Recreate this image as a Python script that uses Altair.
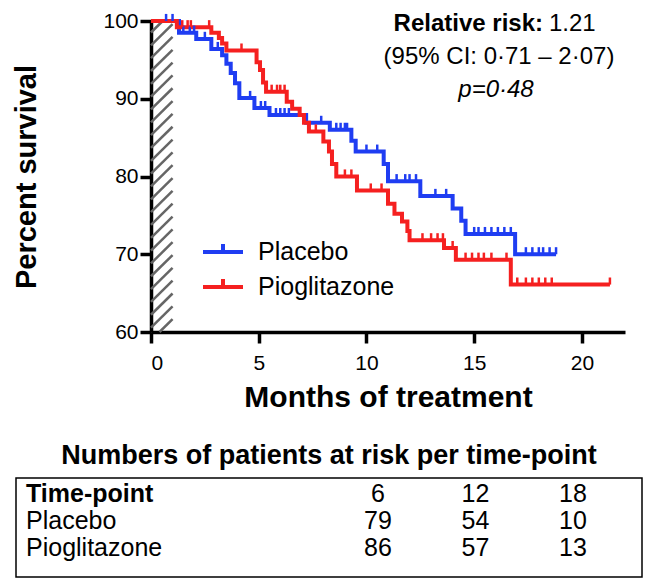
import altair as alt
import pandas as pd
import numpy as np

# ---------------- data ----------------
groups = ["Placebo", "Pioglitazone"]

placebo_t = [0, 1.3, 2.1, 2.8, 3.3, 3.5, 3.7, 3.9, 4.1, 4.8, 5.5, 7.2, 8.3, 9.3, 9.5,
             10.8, 11.0, 12.5, 14.0, 14.4, 14.6, 16.9, 18.8]
placebo_s = [100, 98.5, 97.7, 96.4, 95.6, 94.5, 93.3, 92.0, 90.1, 88.8, 87.9, 86.9, 86.0, 84.6, 83.2,
             81.6, 79.4, 77.5, 75.9, 74.3, 72.6, 70.0, 70.0]
placebo_censored = [0.7, 1.0, 1.5, 1.8, 2.0, 2.5, 3.1, 4.6, 5.1, 5.3, 5.8, 6.0, 6.2, 6.4,
                    7.9, 8.6, 8.8, 9.0, 9.1, 10.0, 10.5, 11.4, 11.8, 12.0, 12.3, 13.2, 13.7,
                    15.0, 15.2, 15.5, 15.8, 16.1, 16.4, 16.7, 17.4, 17.7, 18.0, 18.2, 18.5, 18.8]

pio_t = [0, 1.2, 2.8, 3.15, 3.3, 3.5, 4.9, 5.06, 5.2, 5.34, 6.3, 6.55, 6.9, 7.1, 7.33,
         8.0, 8.26, 8.4, 8.6, 9.56, 11.0, 11.3, 11.65, 11.9, 12.0, 13.6, 14.15, 16.7, 21.3]
pio_s = [100, 99.2, 98.5, 97.8, 97.1, 96.2, 94.7, 93.7, 92.1, 90.9, 89.6, 88.7, 87.9, 86.9, 85.8,
         84.5, 83.2, 81.6, 80.0, 78.2, 76.5, 75.2, 74.2, 73.0, 71.8, 70.8, 69.3, 66.1, 66.1]
pio_censored = [1.45, 1.7, 1.85, 2.7, 4.2, 5.6, 5.85, 6.0, 6.2, 7.65, 9.0, 9.3, 10.2, 10.7,
                12.6, 13.0, 13.3, 13.55, 14.0, 14.6, 14.9, 15.2, 15.45, 15.8, 16.5,
                17.0, 17.4, 17.7, 18.0, 18.3, 18.6, 21.3]

month_ticks = [0, 5, 10, 15, 20]
percent_ticks = [60, 70, 80, 90, 100]
run_in_months = [0, 1]

table_rows = ["Time-point", "Placebo", "Pioglitazone"]
time_points = [6, 12, 18]
placebo_at_risk = [79, 54, 10]
pio_at_risk = [86, 57, 13]

annotation_bold = "Relative risk:"
annotation_rr = "1.21"
annotation_ci = "(95% CI: 0·71 – 2·07)"
annotation_p = "p=0·48"

# ---------------- styling ----------------
BLUE = "#1f3df2"
RED = "#f52020"
FONT = "Liberation Sans"
X_DOMAIN = [0, 22]
Y_DOMAIN = [60, 100]
PANEL_W = 626          # shared width of the survival panel and the risk-table box
AXIS_LEFT = 135        # where the survival x-axis starts inside the panel
AXIS_RIGHT = 609

# ---------------- tables ----------------
def level_at(ts, ss, t):
    lvl = ss[0]
    for ti, si in zip(ts, ss):
        if ti <= t:
            lvl = si
    return lvl

steps = pd.concat([
    pd.DataFrame({"group": "Placebo", "t": placebo_t, "S": placebo_s}),
    pd.DataFrame({"group": "Pioglitazone", "t": pio_t, "S": pio_s}),
], ignore_index=True)

cens = pd.concat([
    pd.DataFrame({"group": "Placebo", "t": placebo_censored,
                  "S": [level_at(placebo_t, placebo_s, t) for t in placebo_censored]}),
    pd.DataFrame({"group": "Pioglitazone", "t": pio_censored,
                  "S": [level_at(pio_t, pio_s, t) for t in pio_censored]}),
], ignore_index=True)

# hatch lines of the run-in band (0-1 month), 45 degrees, clipped to the band
slope = 2.73
rows = []
c = Y_DOMAIN[0] - slope
while c < Y_DOMAIN[1]:
    t_lo = max(run_in_months[0], (Y_DOMAIN[0] - c) / slope)
    t_hi = min(run_in_months[1], (Y_DOMAIN[1] - c) / slope)
    if t_hi > t_lo:
        rows.append({"x": t_lo, "y": c + slope * t_lo, "x2": t_hi, "y2": c + slope * t_hi})
    c += 1.65
hatch = pd.DataFrame(rows)

xscale = alt.Scale(domain=X_DOMAIN, nice=False, zero=False, range=[AXIS_LEFT, AXIS_RIGHT])
yscale = alt.Scale(domain=Y_DOMAIN, nice=False, zero=False)
cscale = alt.Scale(domain=groups, range=[BLUE, RED])

x_axis = alt.Axis(values=month_ticks, title="Months of treatment", grid=False,
                  labelFont=FONT, labelFontSize=21, labelColor="black", labelPadding=9,
                  titleFont=FONT, titleFontSize=30, titleFontWeight="bold", titleColor="black",
                  titlePadding=9, titleX=(AXIS_LEFT + AXIS_RIGHT) / 2,
                  domainColor="black", domainWidth=3.5,
                  tickColor="black", tickWidth=3.5, tickSize=11)
y_axis = alt.Axis(values=percent_ticks, title="Percent survival", grid=False, offset=-AXIS_LEFT,
                  labelFont=FONT, labelFontSize=21, labelColor="black", labelPadding=2,
                  titleFont=FONT, titleFontSize=29, titleFontWeight="bold", titleColor="black",
                  titlePadding=61, domainColor="black", domainWidth=3.5,
                  tickColor="black", tickWidth=3.5, tickSize=11)

hatch_layer = alt.Chart(hatch).mark_rule(color="#666666", strokeWidth=2.5).encode(
    x=alt.X("x:Q", scale=xscale, axis=x_axis),
    y=alt.Y("y:Q", scale=yscale, axis=y_axis),
    x2="x2:Q", y2="y2:Q")

line_layer = alt.Chart(steps).mark_line(interpolate="step-after", strokeWidth=4).encode(
    x=alt.X("t:Q", scale=xscale),
    y=alt.Y("S:Q", scale=yscale),
    color=alt.Color("group:N", scale=cscale, sort=groups,
                    legend=alt.Legend(title=None, orient="none", legendX=AXIS_LEFT + 50, legendY=209,
                                      symbolType="M-1,0H1M0,0V-0.4", symbolSize=1600,
                                      symbolStrokeWidth=4, symbolFillColor="transparent",
                                      labelFont=FONT, labelFontSize=25, labelColor="black",
                                      labelOffset=13, rowPadding=-3)))

cens_layer = alt.Chart(cens).mark_point(shape="M0,0V-1", size=200, strokeWidth=2.5,
                                        filled=False, opacity=1).encode(
    x=alt.X("t:Q", scale=xscale),
    y=alt.Y("S:Q", scale=yscale),
    color=alt.Color("group:N", scale=cscale, legend=None))

one = pd.DataFrame({"a": [0]})
ann1 = alt.Chart(one).mark_text(text=annotation_bold, font=FONT, fontSize=24, fontWeight="bold",
                                align="right", baseline="middle", color="black").encode(
    x=alt.value(AXIS_LEFT + 392), y=alt.value(3))
ann2 = alt.Chart(one).mark_text(text=annotation_rr, font=FONT, fontSize=24,
                                align="left", baseline="middle", color="black").encode(
    x=alt.value(AXIS_LEFT + 398), y=alt.value(3))
ann3 = alt.Chart(one).mark_text(text=annotation_ci, font=FONT, fontSize=24,
                                align="center", baseline="middle", color="black").encode(
    x=alt.value(AXIS_LEFT + 348), y=alt.value(36))
ann4 = alt.Chart(one).mark_text(text=annotation_p, font=FONT, fontSize=24, fontStyle="italic",
                                align="center", baseline="middle", color="black").encode(
    x=alt.value(AXIS_LEFT + 345), y=alt.value(69))

top = alt.layer(hatch_layer, line_layer, cens_layer, ann1, ann2, ann3, ann4).properties(
    width=AXIS_RIGHT, height=311)

# ---------------- risk table ----------------
head_df = pd.DataFrame({"row": table_rows[:1]})
group_df = pd.DataFrame({"row": table_rows[1:]})
num_df = pd.DataFrame({
    "row": ["Time-point"] * 3 + ["Placebo"] * 3 + ["Pioglitazone"] * 3,
    "tp": time_points * 3,
    "val": [str(v) for v in time_points + placebo_at_risk + pio_at_risk],
})
row_scale = alt.Scale(type="point", domain=table_rows, range=[16, 70], padding=0)
col_scale = alt.Scale(type="point", domain=time_points, range=[362, 557], padding=0)

head = alt.Chart(head_df).mark_text(font=FONT, fontSize=25, fontWeight="bold", align="left",
                                    baseline="middle", color="black").encode(
    x=alt.value(10),
    y=alt.Y("row:N", scale=row_scale, axis=None),
    text="row:N")
labels = alt.Chart(group_df).mark_text(font=FONT, fontSize=25, align="left",
                                       baseline="middle", color="black").encode(
    x=alt.value(10),
    y=alt.Y("row:N", scale=row_scale, axis=None),
    text="row:N")
nums = alt.Chart(num_df).mark_text(font=FONT, fontSize=25, align="center",
                                   baseline="middle", color="black").encode(
    x=alt.X("tp:O", scale=col_scale, axis=None),
    y=alt.Y("row:N", scale=row_scale, axis=None),
    text="val:N")

bottom = alt.layer(head, labels, nums).properties(
    width=PANEL_W, height=99,
    view=alt.ViewBackground(stroke="black", strokeWidth=1.5),
    title=alt.TitleParams("Numbers of patients at risk per time-point", font=FONT, fontSize=27,
                          fontWeight="bold", color="black", anchor="middle", offset=8))

chart = alt.vconcat(top, bottom, spacing=29).properties(
    padding={"left": 4, "top": 0, "right": 0, "bottom": 0}
).configure_view(stroke=None)

chart.save("out.html", embed_options={"renderer": "svg", "actions": False})
